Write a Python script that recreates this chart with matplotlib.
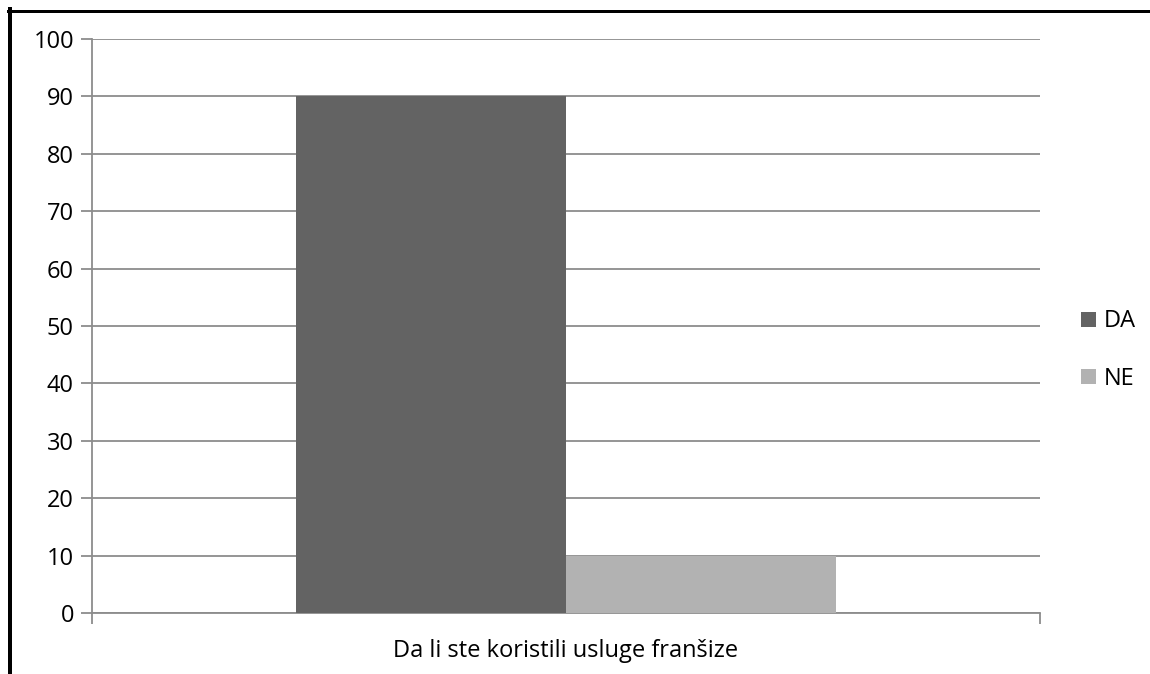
import matplotlib
matplotlib.use("Agg")
import matplotlib.pyplot as plt
from matplotlib.lines import Line2D
from matplotlib.patches import Patch

categories = ["Da li ste koristili usluge franšize"]
series_names = ["DA", "NE"]
series_values = [[90], [10]]
colors = ["#636363", "#b2b2b2"]
yticks = [0, 10, 20, 30, 40, 50, 60, 70, 80, 90, 100]

W, H, DPI = 1150, 674, 100
FS = 17
plt.rcParams['font.family'] = ['Open Sans', 'DejaVu Sans']
fig = plt.figure(figsize=(W / DPI, H / DPI), dpi=DPI)
ax = fig.add_axes([92 / W, 1 - 613 / H, (1040 - 92) / W, (613 - 39) / H])

bw = 270 / 948
offsets = [-bw / 2, bw / 2]
for name, vals, c, off in zip(series_names, series_values, colors, offsets):
    ax.bar([i + off for i in range(len(categories))], vals, width=bw, color=c,
           label=name, zorder=3)

ax.set_xlim(-0.5, len(categories) - 0.5)
ax.set_ylim(0, 100)
ax.set_yticks(yticks)
ax.yaxis.grid(True, color="#8c8c8c", linewidth=1.3, zorder=0)
ax.tick_params(axis='y', length=8, width=1.3, color="#8c8c8c", labelsize=FS, pad=5)
ax.set_xticks([-0.5, len(categories) - 0.5])
ax.set_xticklabels(["", ""])
ax.tick_params(axis='x', which='major', length=8, width=1.3, color="#8c8c8c")
ax.set_xticks(range(len(categories)), labels=categories, minor=True)
ax.tick_params(axis='x', which='minor', length=0, labelsize=FS, pad=19)
for s in ['top', 'right']:
    ax.spines[s].set_visible(False)
for s in ['left', 'bottom']:
    ax.spines[s].set_color("#8c8c8c")
    ax.spines[s].set_linewidth(1.3)

handles = [Patch(facecolor=c, edgecolor='none') for c in colors]
fig.legend(handles, series_names, loc='center left', bbox_to_anchor=(1060 / W, 1 - 350 / H),
           frameon=False, fontsize=FS, handlelength=0.62, handleheight=0.62,
           handletextpad=0.35, labelspacing=1.4)

# outer border (left and top)
fig.add_artist(Line2D([10 / W, 10 / W], [0, 1 - 9 / H], color='black', linewidth=4 * 72 / DPI))
fig.add_artist(Line2D([8 / W, 1], [1 - 10.5 / H, 1 - 10.5 / H], color='black', linewidth=3 * 72 / DPI))

fig.savefig("out.png", dpi=DPI)
